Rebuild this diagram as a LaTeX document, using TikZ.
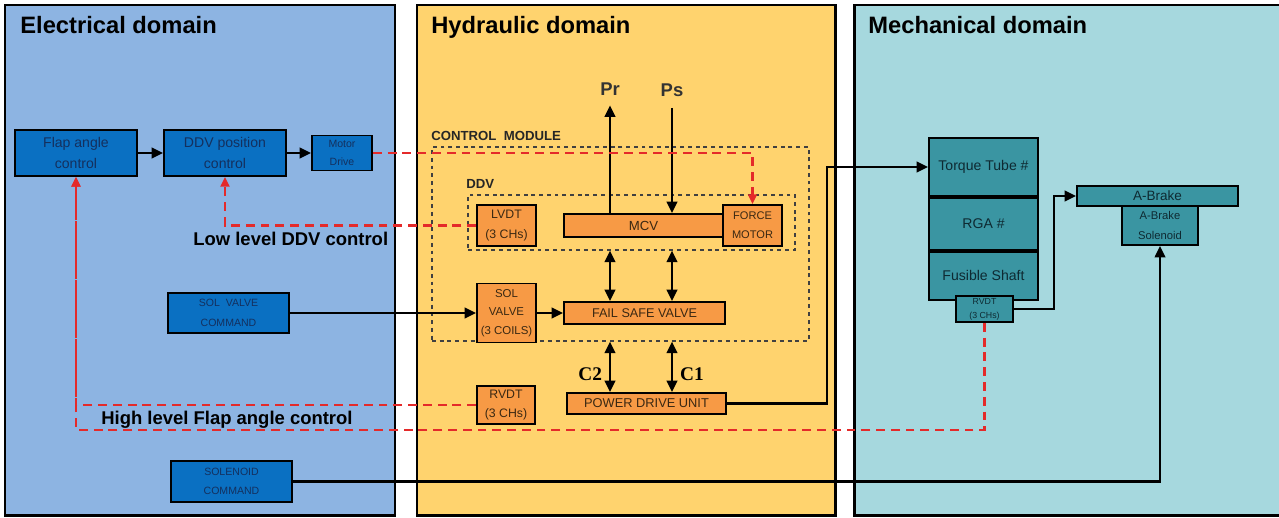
\documentclass[tikz,border=0pt]{standalone}
\usepackage{fontspec}
\setmainfont{Liberation Sans}
\newfontfamily\serifbold{Liberation Serif}
\usepackage{xcolor}
\usepackage{tikz}
\usetikzlibrary{arrows.meta,positioning}

\definecolor{elecbg}{HTML}{8DB4E2}
\definecolor{hydbg}{HTML}{FFD36E}
\definecolor{mechbg}{HTML}{A6D8DE}
\definecolor{elecbox}{HTML}{0A70C2}
\definecolor{hydbox}{HTML}{F79A45}
\definecolor{mechbox}{HTML}{3A95A2}
\definecolor{electxt}{HTML}{14305E}
\definecolor{hydtxt}{HTML}{3A2812}
\definecolor{mechtxt}{HTML}{0E2A32}
\definecolor{sigred}{HTML}{E42A2A}

\begin{document}
\begin{tikzpicture}[
  x = 0.2mm, y = -0.2mm,
  sz/.style 2 args = {minimum width=#1*0.2mm, minimum height=#2*0.2mm},
  panel/.style  = {draw, line width=1.7pt, fill=#1, inner sep=0pt},
  title/.style  = {font=\fontsize{13.5}{16}\selectfont\bfseries,
                   anchor=base west, inner sep=0pt},
  ebox/.style   = {draw, line width=1.1pt, fill=elecbox, text=electxt,
                   align=center, inner sep=0pt, font=\fontsize{8}{12}\selectfont},
  hbox/.style   = {draw, line width=1.1pt, fill=hydbox, text=hydtxt,
                   align=center, inner sep=0pt, font=\fontsize{7}{11}\selectfont},
  mbox/.style   = {draw, line width=1.1pt, fill=mechbox, text=mechtxt,
                   align=center, inner sep=0pt, font=\fontsize{8}{11}\selectfont},
  module/.style = {draw=black!75, line width=0.7pt,
                   dash pattern=on 2.2pt off 2.2pt, inner sep=0pt},
  modl/.style   = {font=\fontsize{7.5}{9}\selectfont\bfseries, text=black!85,
                   anchor=base west, inner sep=0pt},
  lbl/.style    = {font=\fontsize{10.5}{13}\selectfont\bfseries,
                   anchor=base west, inner sep=0pt},
  port/.style   = {font=\fontsize{10.5}{12}\selectfont\bfseries, text=black!80,
                   anchor=base, inner sep=0pt},
  clbl/.style   = {font=\fontsize{11}{13}\selectfont\serifbold\bfseries, inner sep=0pt},
  arr/.style    = {-{Triangle[length=6.5pt,width=6pt]}, line width=1.2pt},
  darr/.style   = {{Triangle[length=6.5pt,width=6pt]}-{Triangle[length=6.5pt,width=6pt]},
                   line width=1.2pt},
  sig/.style    = {draw=sigred, line width=1.3pt, dash pattern=on 5pt off 3.4pt},
  sigarr/.style = {sig, -{Triangle[length=5.5pt,width=5pt]}},
]
\useasboundingbox (0,0) rectangle (1279,517);

%% ── DOMAIN PANELS ───────────────────────────────────────────────────────
\node[panel=elecbg, sz={390}{510}] (elec) at (200,260)   {};
\node[panel=hydbg,  sz={418}{510}] (hyd)  at (626,260)   {};
\node[panel=mechbg, sz={430}{510}] (mech) at (1069,260)  {};
\node[title] (elec-t) at (20,33)  {Electrical domain};
\node[title] (hyd-t)  at (431,33) {Hydraulic domain};
\node[title] (mech-t) at (868,33) {Mechanical domain};

%% ── ELECTRICAL ──────────────────────────────────────────────────────────
\node[ebox, sz={122}{46}] (flap)   at (76,153)  {Flap angle\\control};
\node[ebox, sz={122}{46}] (ddvpos) at (225,153) {DDV position\\control};
\node[ebox, sz={60}{35}, font=\fontsize{6}{10}\selectfont]
      (motor) at (342,153) {Motor\\Drive};
\node[ebox, sz={121}{40}, font=\fontsize{6}{11}\selectfont]
      (solcmd) at (228.5,313) {SOL\ \ VALVE\\COMMAND};
\node[ebox, sz={121}{41}, font=\fontsize{6}{11}\selectfont]
      (solenoidcmd) at (231.5,481.5) {SOLENOID\\COMMAND};
\node[lbl] (lowlbl)  at (193,245) {Low level DDV control};
\node[lbl] (highlbl) at (101,424) {High level Flap angle control};

%% ── HYDRAULIC ───────────────────────────────────────────────────────────
\node[module, sz={377}{194}] (ctrlmod) at (620.5,244)   {};
\node[modl] (ctrlmod-t) at (431,140) {CONTROL\ \ MODULE};
\node[module, sz={327}{55}]  (ddv)     at (631.5,222.5) {};
\node[modl] (ddv-t) at (466,188) {DDV};

\node[hbox, sz={59}{41}] (lvdt) at (506.5,225.5) {LVDT\\(3 CHs)};
\node[hbox, sz={159}{23}, font=\fontsize{7.5}{9}\selectfont] (mcv) at (643.5,225.5) {MCV};
\node[hbox, sz={59}{41}, font=\fontsize{6.3}{11}\selectfont]
      (forcemotor) at (752.5,225.5) {FORCE\\MOTOR};
\node[hbox, sz={59}{59}, font=\fontsize{6.5}{10.5}\selectfont]
      (solvalve) at (506.5,313) {SOL\\VALVE\\(3 COILS)};
\node[hbox, sz={161}{22}, font=\fontsize{7.2}{9}\selectfont] (fsv) at (644.5,313) {FAIL\ SAFE VALVE};
\node[hbox, sz={58}{38}] (rvdth) at (506,405) {RVDT\\(3 CHs)};
\node[hbox, sz={159}{21}, font=\fontsize{7.3}{9}\selectfont] (pdu) at (646.5,403.5) {POWER DRIVE\ UNIT};

\node[port] (pr) at (610,95) {Pr};
\node[port] (ps) at (672,96) {Ps};

%% ── MECHANICAL ──────────────────────────────────────────────────────────
\node[mbox, sz={109}{58}] (torque) at (983.5,167) {Torque Tube \#};
\node[mbox, sz={109}{52}, below=0pt of torque] (rga) {RGA \#};
\node[mbox, sz={109}{48}, below=0pt of rga] (fusible) {Fusible Shaft};
\node[mbox, sz={57}{26}, font=\fontsize{5}{8}\selectfont]
      (rvdtm) at (984.5,309) {RVDT\\(3 CHs)};
\node[mbox, sz={161}{20}, font=\fontsize{7.7}{9}\selectfont] (abrake) at (1157.5,196) {A-Brake};
\node[mbox, sz={76}{39}, font=\fontsize{6.4}{11}\selectfont]
      (absol) at (1160,225.5) {A-Brake\\Solenoid};

%% ── SIGNAL FLOW ─────────────────────────────────────────────────────────
\draw[arr] (flap)   -- (ddvpos);
\draw[arr] (ddvpos) -- (motor);
\draw[arr] (solcmd) -- (solvalve);
\draw[arr] (solvalve) -- (fsv);

%% supply / return ports
\draw[arr, shorten >=5.7pt] (mcv.north -| pr) -- (pr.south);
\draw[arr, shorten <=6.5pt] (ps.south) -- (mcv.north -| ps);

%% MCV <-> FSV <-> PDU
\draw[darr] (ddv.south -| pr) -- (fsv.north -| pr);
\draw[darr] (ddv.south -| ps) -- (fsv.north -| ps);
\draw[darr] (ctrlmod.south -| pr) -- node[clbl, left=4pt, pos=0.65]{C2} (pdu.north -| pr);
\draw[darr] (ctrlmod.south -| ps) -- node[clbl, right=4pt, pos=0.65]{C1} (pdu.north -| ps);

%% mechanical drive train
\coordinate (pdujog) at (827,0);
\coordinate (abjog)  at (1054,0);
\draw[arr] (pdu.east) -- (pdu.east -| pdujog) |- (torque.west);
\draw[arr] (rvdtm.east) -- (rvdtm.east -| abjog) |- (abrake.west);
\draw[arr] (solenoidcmd.east) -| (absol.south);

%% ── FEEDBACK LOOPS (dashed) ─────────────────────────────────────────────
\coordinate (hlow) at (0,430);
\draw[sigarr] (motor.east) -| (forcemotor.north);
\draw[sigarr] (lvdt.west)  -| (ddvpos.south);
\draw[sigarr] (rvdth.west) -| (flap.south);
\draw[sigarr] (rvdtm.south) |- (hlow -| flap.south) -- (flap.south);

\end{tikzpicture}
\end{document}
